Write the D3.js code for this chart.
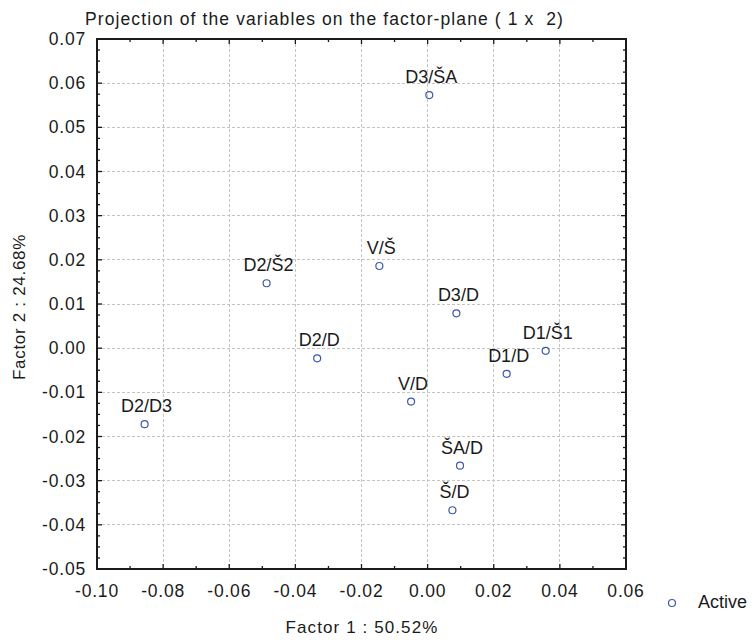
<!DOCTYPE html>
<html><head><meta charset="utf-8">
<script src="https://cdn.jsdelivr.net/npm/d3@7"></script>
<style>body{margin:0;background:#fff}svg{display:block}text{font-family:"Liberation Sans",Arial,sans-serif;fill:#1a1a1a;white-space:pre}</style>
</head><body><svg id="c" width="753" height="640"></svg>
<script>
const labels = ["D3/ŠA","V/Š","D2/Š2","D3/D","D2/D","D1/Š1","D1/D","V/D","D2/D3","ŠA/D","Š/D"];
const factor1 = [0.0005,-0.0146,-0.0487,0.0087,-0.0334,0.0357,0.0239,-0.0050,-0.0856,0.0098,0.0075];
const factor2 = [0.0573,0.0186,0.0147,0.0079,-0.0023,-0.0006,-0.0058,-0.0121,-0.0172,-0.0266,-0.0367];
const xTicks = [-0.10,-0.08,-0.06,-0.04,-0.02,0.00,0.02,0.04,0.06];
const xTickLabels = ["-0.10","-0.08","-0.06","-0.04","-0.02","0.00","0.02","0.04","0.06"];
const yTicks = [-0.05,-0.04,-0.03,-0.02,-0.01,0.00,0.01,0.02,0.03,0.04,0.05,0.06,0.07];
const yTickLabels = ["-0.05","-0.04","-0.03","-0.02","-0.01","0.00","0.01","0.02","0.03","0.04","0.05","0.06","0.07"];
const title = "Projection of the variables on the factor-plane ( 1 x  2)";
const xTitle = "Factor 1 : 50.52%";
const yTitle = "Factor 2 : 24.68%";
const legendLabel = "Active";

const svg = d3.select("#c");
const L=97,R=626,T=39,B=569;
const x = d3.scaleLinear().domain([-0.10,0.06]).range([L,R]);
const y = d3.scaleLinear().domain([-0.05,0.07]).range([B,T]);
const ptColor = "#3f58ad";

// grid
const g = svg.append("g");
g.selectAll(".gx").data(xTicks.slice(1,-1)).join("line")
  .attr("x1",d=>x(d)).attr("x2",d=>x(d)).attr("y1",T).attr("y2",B)
  .attr("stroke","#c4c4c4").attr("stroke-width",1).attr("stroke-dasharray","3,2").attr("shape-rendering","crispEdges");
g.selectAll(".gy").data(yTicks.slice(1,-1)).join("line")
  .attr("y1",d=>y(d)).attr("y2",d=>y(d)).attr("x1",L).attr("x2",R)
  .attr("stroke","#c4c4c4").attr("stroke-width",1).attr("stroke-dasharray","3,2").attr("shape-rendering","crispEdges");

// axes with inward ticks
const xMinor = d3.range(-0.10,0.0601,0.01);
const yMinor = d3.range(-0.05,0.07001,0.0025);
const t = svg.append("g").attr("stroke","#1a1a1a").attr("stroke-width",1.3);
xMinor.forEach((v,i)=>{ const len = i%2===0?5:3;
  t.append("line").attr("x1",x(v)).attr("x2",x(v)).attr("y1",B).attr("y2",B-len);
  t.append("line").attr("x1",x(v)).attr("x2",x(v)).attr("y1",T).attr("y2",T+len);});
yMinor.forEach((v,i)=>{ const len = i%4===0?5:3;
  t.append("line").attr("y1",y(v)).attr("y2",y(v)).attr("x1",L).attr("x2",L+len);
  t.append("line").attr("y1",y(v)).attr("y2",y(v)).attr("x1",R).attr("x2",R-len);});
svg.append("rect").attr("x",L).attr("y",T).attr("width",R-L).attr("height",B-T)
  .attr("fill","none").attr("stroke","#1a1a1a").attr("stroke-width",2);

// tick labels
svg.selectAll(".xl").data(xTicks).join("text")
  .attr("x",d=>x(d)).attr("y",597).attr("text-anchor","middle")
  .attr("font-size",17.5).attr("letter-spacing",0.8).text((d,i)=>xTickLabels[i]);
svg.selectAll(".yl").data(yTicks).join("text")
  .attr("x",86).attr("y",d=>y(d)+6).attr("text-anchor","end")
  .attr("font-size",17.5).attr("letter-spacing",0.8).text((d,i)=>yTickLabels[i]);

// titles
svg.append("text").attr("x",85).attr("y",25).attr("font-size",17.5).attr("letter-spacing",1.1).text(title);
svg.append("text").attr("x",362).attr("y",633).attr("text-anchor","middle").attr("font-size",17).attr("letter-spacing",1.1).text(xTitle);
svg.append("text").attr("transform","translate(25,307) rotate(-90)").attr("text-anchor","middle").attr("font-size",17).attr("letter-spacing",0.7).text(yTitle);

// points
const pts = labels.map((l,i)=>({l, a:factor1[i], b:factor2[i]}));
svg.selectAll(".pt").data(pts).join("circle")
  .attr("cx",d=>x(d.a)).attr("cy",d=>y(d.b)).attr("r",3.5)
  .attr("fill","none").attr("stroke",ptColor).attr("stroke-width",1.2);
svg.selectAll(".pl").data(pts).join("text")
  .attr("x",d=>x(d.a)+2).attr("y",d=>y(d.b)-12).attr("text-anchor","middle")
  .attr("font-size",18).text(d=>d.l);

// legend
svg.append("circle").attr("cx",672).attr("cy",603).attr("r",3.5).attr("fill","none").attr("stroke",ptColor).attr("stroke-width",1.2);
svg.append("text").attr("x",698).attr("y",608).attr("font-size",18).text(legendLabel);
</script></body></html>
